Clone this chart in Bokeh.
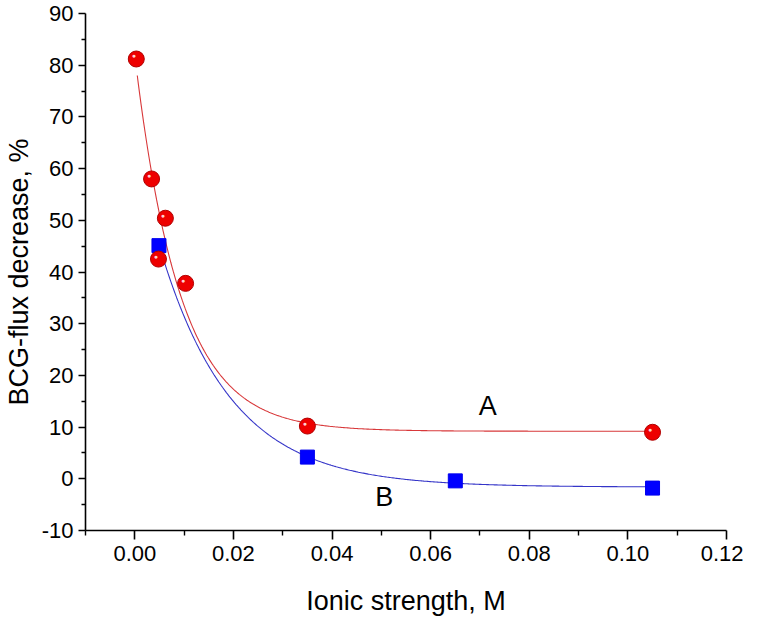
import numpy as np
from bokeh.plotting import figure
from bokeh.models import Range1d, FixedTicker, NumeralTickFormatter, ColumnDataSource
from bokeh.core.properties import value
from bokeh.embed import file_html
from bokeh.resources import INLINE

# ---- data ----
a_x = [0.0003, 0.0034, 0.0048, 0.0062, 0.0103, 0.035, 0.105]
a_y = [81.2, 58.0, 42.5, 50.4, 37.8, 10.2, 9.0]
b_x = [0.0049, 0.035, 0.065, 0.105]
b_y = [45.1, 4.2, -0.4, -1.8]

# exponential-decay fit parameters (y = y0 + A*exp(-(x-x0)/t))
fit_a = dict(y0=9.2, A=68.8, x0=0.0005, t=0.00913, x_end=0.105)
fit_b = dict(y0=-1.6, A=46.6, x0=0.005, t=0.0145, x_end=0.105)

x_ticks = [0.00, 0.02, 0.04, 0.06, 0.08, 0.10, 0.12]
x_minor = [-0.01, 0.01, 0.03, 0.05, 0.07, 0.09, 0.11]
y_ticks = [-10, 0, 10, 20, 30, 40, 50, 60, 70, 80, 90]
y_minor = [-5, 5, 15, 25, 35, 45, 55, 65, 75, 85]

curve_labels = ["A", "B"]
label_x = [0.0716, 0.0506]
label_y = [14.0, -3.5]

FONT = "Liberation Sans"


def fit_curve(f):
    xs = np.linspace(f["x0"], f["x_end"], 400)
    ys = f["y0"] + f["A"] * np.exp(-(xs - f["x0"]) / f["t"])
    return xs, ys


p = figure(width=743, height=622, output_backend="svg", toolbar_location=None,
           x_range=Range1d(-0.01, 0.12), y_range=Range1d(-10, 90),
           min_border_left=81, min_border_top=13, min_border_right=17, min_border_bottom=92)
p.outline_line_color = None
p.xgrid.visible = False
p.ygrid.visible = False
p.background_fill_color = "white"

# curves
xa, ya = fit_curve(fit_a)
xb, yb = fit_curve(fit_b)
p.line(xa, ya, line_color="#d8383a", line_width=1.1)
p.line(xb, yb, line_color="#3535c8", line_width=1.1)

# markers
p.scatter(b_x, b_y, marker="square", size=14, fill_color="#0000ff", line_color="#0000ee")
src_a = ColumnDataSource(dict(x=a_x, y=a_y, t=["\u25cf"] * len(a_x)))
p.scatter("x", "y", source=src_a, marker="circle", size=16, fill_color="#ee0000",
          line_color="#b00000", line_width=1)
p.text("x", "y", text="t", source=src_a, text_font=value(FONT), text_font_size="7px",
       text_color="#ffd0d0", text_align="center", text_baseline="middle",
       x_offset=-2.5, y_offset=-3)

# curve labels
p.text(label_x, label_y, text=curve_labels, text_font=value(FONT), text_font_size="27px",
       text_color="black", text_align="center", text_baseline="middle")

# axes
for ax in (p.xaxis[0], p.yaxis[0]):
    ax.axis_line_width = 1.6
    ax.axis_line_color = "black"
    ax.major_tick_line_width = 1.6
    ax.minor_tick_line_width = 1.4
    ax.major_tick_in = 0
    ax.minor_tick_in = 0
    ax.major_label_text_font = FONT
    ax.major_label_text_font_size = "22px"
    ax.major_label_text_color = "black"
    ax.axis_label_text_font = FONT
    ax.axis_label_text_font_size = "27px"
    ax.axis_label_text_font_style = "normal"
    ax.axis_label_text_color = "black"

p.xaxis.ticker = FixedTicker(ticks=x_ticks, minor_ticks=x_minor)
p.xaxis.formatter = NumeralTickFormatter(format="0.00")
p.xaxis.major_tick_out = 9
p.xaxis.minor_tick_out = 5
p.xaxis.major_label_standoff = 6
p.xaxis.axis_label = "Ionic strength, M"
p.xaxis.axis_label_standoff = 22

p.yaxis.ticker = FixedTicker(ticks=y_ticks, minor_ticks=y_minor)
p.yaxis.major_label_overrides = {-10: "-10"}
p.yaxis.major_tick_out = 7
p.yaxis.minor_tick_out = 4
p.yaxis.major_label_standoff = 5
p.yaxis.axis_label = "BCG-flux decrease, %"
p.yaxis.axis_label_standoff = 5

open("out.html", "w").write(file_html(p, INLINE))
